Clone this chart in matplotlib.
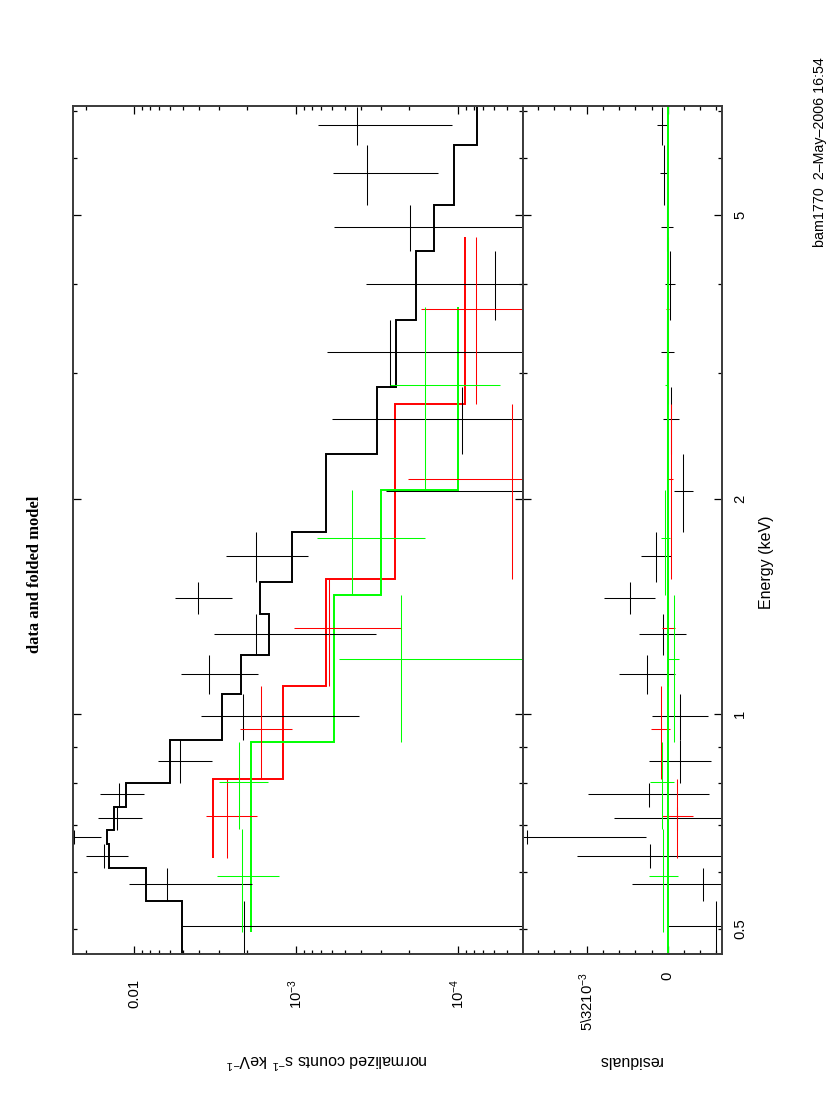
import matplotlib.pyplot as plt
import matplotlib.transforms as mtransforms
import numpy as np
from matplotlib.ticker import FixedLocator, LogLocator, MultipleLocator, NullFormatter

plt.rcParams["font.family"] = ["Liberation Sans", "DejaVu Sans"]
plt.rcParams["mathtext.fontset"] = "custom"
plt.rcParams["mathtext.rm"] = "Liberation Sans"
plt.rcParams["mathtext.it"] = "Liberation Sans:italic"
plt.rcParams["mathtext.bf"] = "Liberation Sans:bold"

# black spectrum: channel edges (keV), rate, 1-sigma error, folded model
black_edges = [0.463, 0.547, 0.608, 0.657, 0.688, 0.742, 0.801, 0.920, 1.065, 1.21,
               1.38, 1.53, 1.80, 2.31, 2.87, 3.56, 4.45, 5.16, 6.27, 7.09]
black_rate = [2.09e-3, 6.31e-3, 1.545e-2, 2.34e-2, 1.284e-2, 1.248e-2, 5.25e-3, 2.14e-3,
              3.44e-3, 1.78e-3, 4.03e-3, 1.77e-3, -3.1e-4, 9.5e-5, 2.64e-4, 5.9e-5,
              1.98e-4, 3.63e-4, 4.20e-4]
black_err = [3.0e-3, 4.43e-3, 4.5e-3, 7.3e-3, 3.9e-3, 3.74e-3, 1.92e-3, 1.73e-3,
             1.73e-3, 1.46e-3, 1.555e-3, 9.3e-4, 5.9e-4, 5.02e-4, 3.79e-4, 3.12e-4,
             3.85e-4, 2.29e-4, 3.11e-4]
black_model = [5.10e-3, 8.51e-3, 1.434e-2, 1.474e-2, 1.341e-2, 1.130e-2, 6.0e-3, 2.89e-3,
               2.185e-3, 1.474e-3, 1.676e-3, 1.068e-3, 6.58e-4, 3.19e-4, 2.43e-4, 1.81e-4,
               1.41e-4, 1.067e-4, 7.6e-5]

# red spectrum
red_edges = [0.629, 0.810, 1.095, 1.545, 2.72, 4.66]
red_rate = [2.67e-3, 1.64e-3, 6.29e-4, 4.66e-5, 7.74e-5]
red_err = [9.3e-4, 5.84e-4, 4.04e-4, 1.57e-4, 9.25e-5]
red_model = [3.27e-3, 1.213e-3, 6.58e-4, 2.46e-4, 9.09e-5]

# green spectrum
green_edges = [0.495, 0.690, 0.915, 1.47, 2.06, 3.71]
green_rate = [2.17e-3, 2.24e-3, 2.25e-4, 4.51e-4, 1.59e-4]
green_err = [9.0e-4, 7.5e-4, 3.22e-4, 2.91e-4, 1.04e-4]
green_model = [1.90e-3, 1.90e-3, 5.85e-4, 3.01e-4, 1.0e-4]

energy_ticks = [0.5, 1, 2, 5]
energy_labels = ["0.5", "1", "2", "5"]
energy_minor = [0.6, 0.7, 0.8, 0.9, 3, 4, 6, 7]
count_ticks = [1e-2, 1e-3, 1e-4]
count_labels = ["0.01", r"$\mathregular{10^{-3}}$", r"$\mathregular{10^{-4}}$"]
resid_ticks = [0.005, 0.0]
resid_labels = [r"5\3210$\mathregular{^{-3}}$", "0"]

W, H = 830, 1117
fig = plt.figure(figsize=(W / 100, H / 100), dpi=100)
fig.patch.set_facecolor("white")


def box(x0, y0, x1, y1):
    # pixel corners -> figure fractions
    return [x0 / W, 1 - y1 / H, (x1 - x0) / W, (y1 - y0) / H]


ax = fig.add_axes(box(72.7, 105.7, 522.7, 954.3))
axr = fig.add_axes(box(522.7, 105.7, 722, 954.3))

for a in (ax, axr):
    a.set_yscale("log")
    a.set_ylim(0.4608, 7.11)
    a.yaxis.set_major_locator(FixedLocator([1, 2, 5]))
    a.yaxis.set_minor_locator(FixedLocator([0.5] + energy_minor))
    a.yaxis.set_major_formatter(NullFormatter())
    a.yaxis.set_minor_formatter(NullFormatter())
    a.tick_params(which="both", direction="in", top=True, bottom=True,
                  left=True, right=True, labelbottom=False, labelleft=False,
                  width=0.9, color="black")
    a.tick_params(which="major", length=6)
    a.tick_params(which="minor", length=3)
    for s in a.spines.values():
        s.set_linewidth(1.4)
        s.set_color("#3a3a3a")

ax.set_xscale("log")
ax.set_xlim(0.0240, 3.99e-5)
ax.xaxis.set_major_locator(FixedLocator(count_ticks))
ax.xaxis.set_minor_locator(LogLocator(base=10, subs=np.arange(2, 10), numticks=20))
ax.xaxis.set_major_formatter(NullFormatter())
ax.xaxis.set_minor_formatter(NullFormatter())

axr.set_xlim(0.00895, -0.00335)
axr.xaxis.set_major_locator(FixedLocator(resid_ticks))
axr.xaxis.set_minor_locator(MultipleLocator(0.001))
axr.xaxis.set_major_formatter(NullFormatter())


def draw(edges, rate, err, model, color):
    edges = np.array(edges)
    rate = np.array(rate)
    err = np.array(err)
    model = np.array(model)
    lo, hi = edges[:-1], edges[1:]
    mid = (lo + hi) / 2
    pos = rate > 0
    ax.vlines(rate[pos], lo[pos], hi[pos], color=color, lw=0.75)
    ax.hlines(mid, np.clip(rate - err, 1e-9, None), rate + err, color=color, lw=0.75)
    ax.stairs(model, edges, orientation="horizontal", baseline=None,
              color=color, lw=1.4)
    res = rate - model
    axr.vlines(res, lo, hi, color=color, lw=0.75)
    axr.hlines(mid, res - err, res + err, color=color, lw=0.75)


draw(black_edges, black_rate, black_err, black_model, "black")
draw(red_edges, red_rate, red_err, red_model, "#ff0000")
draw(green_edges, green_rate, green_err, green_model, "#00ff00")
axr.axvline(0, color="#00ff00", lw=1.4)

# tick labels, placed by hand (rotated page)
tb = mtransforms.blended_transform_factory(ax.transData, fig.transFigure)
for v, lab in zip(count_ticks, count_labels):
    ax.text(v, 1 - 979 / H, lab, transform=tb, rotation=90, ha="center",
            va="top", fontsize=10.7, clip_on=False)

tr = mtransforms.blended_transform_factory(axr.transData, fig.transFigure)
for v, lab in zip(resid_ticks, resid_labels):
    axr.text(v, 1 - 972 / H, lab, transform=tr, rotation=90, ha="center",
             va="top", fontsize=10.7, clip_on=False)

te = mtransforms.blended_transform_factory(fig.transFigure, axr.transData)
for v, lab in zip(energy_ticks, energy_labels):
    axr.text(740 / W, v, lab, transform=te, rotation=90, ha="center",
             va="center", fontsize=10.7, clip_on=False)

fig.text(766 / W, 1 - 562 / H, "Energy (keV)", rotation=90, ha="center",
         va="center", fontsize=11.5)
fig.text(327 / W, 1 - 1060 / H, r"normalized counts s$\mathregular{^{-1}}$ keV$\mathregular{^{-1}}$",
         rotation=180, ha="center", va="center", fontsize=11.5)
fig.text(630 / W, 1 - 1060 / H, "residuals", rotation=180, ha="center",
         va="center", fontsize=11.5)
fig.text(35 / W, 1 - 574 / H, "data and folded model", rotation=90, ha="center",
         va="center", fontsize=12, family="Liberation Serif", weight="bold")
fig.text(820 / W, 1 - 152 / H, "bam1770  2\u2013May\u20132006 16:54", rotation=90,
         ha="center", va="center", fontsize=10.3)

fig.savefig("out.png", dpi=100, facecolor="white")
